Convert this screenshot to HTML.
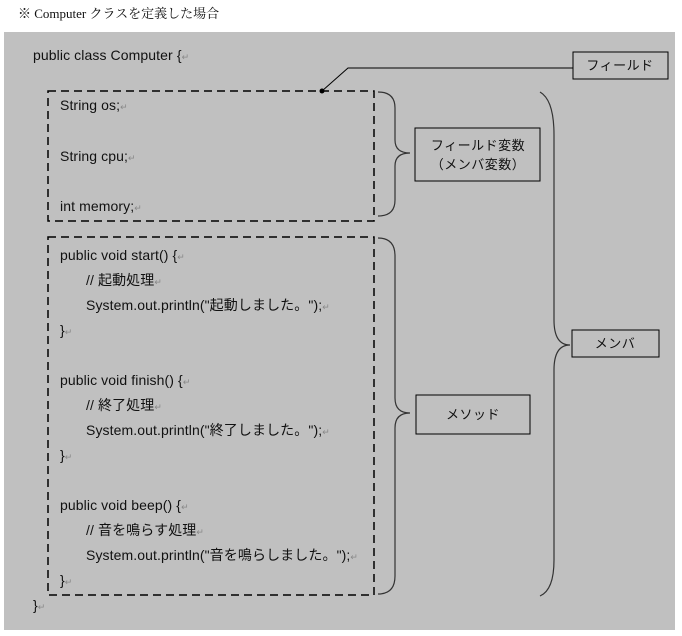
<!DOCTYPE html>
<html><head><meta charset="utf-8"><style>
html,body{margin:0;padding:0;background:#fff;}
svg{display:block;}
text{font-family:"Liberation Sans","Noto Sans CJK JP",sans-serif;font-size:14px;fill:#111;letter-spacing:0.1px;}
.r{fill:#888;font-size:9px;letter-spacing:0;}
.l{font-size:13px;letter-spacing:0.5px;}
</style></head><body>
<svg width="682" height="636" viewBox="0 0 682 636" xmlns="http://www.w3.org/2000/svg">
<text x="18" y="18" style="font-family:'Liberation Serif','Noto Serif CJK SC',serif;font-size:13px;letter-spacing:0">※ Computer クラスを定義した場合</text>
<rect x="4" y="32" width="671" height="598" fill="#c0c0c0"/>
<text x="33" y="60">public class Computer {<tspan class="r">↵</tspan></text>
<rect x="48" y="91" width="326" height="130" fill="none" stroke="#000" stroke-width="1.5" stroke-dasharray="8,5"/>
<rect x="48" y="237" width="326" height="358" fill="none" stroke="#000" stroke-width="1.5" stroke-dasharray="8,5"/>
<circle cx="322" cy="91" r="2.5" fill="#000"/>
<polyline points="322,91 348,68 573,68" fill="none" stroke="#000" stroke-width="1"/>
<rect x="573" y="52" width="95" height="27" fill="none" stroke="#000"/>
<text class="l" x="620" y="70" text-anchor="middle">フィールド</text>
<g fill="none" stroke="#333" stroke-width="1.2">
<path d="M378,92 Q395,92 395,108 L395,140 Q395,153 410,153 Q395,153 395,166 L395,200 Q395,216 378,216"/>
<path d="M378,238 Q395,238 395,256 L395,398 Q395,413 410,413 Q395,413 395,428 L395,576 Q395,594 378,594"/>
<path d="M540,92 Q554,100 554,135 L554,320 Q554,345 570,345 Q554,345 554,370 L554,560 Q554,590 540,596"/>
</g>
<rect x="415" y="128" width="125" height="53" fill="none" stroke="#000"/>
<text class="l" x="478" y="150" text-anchor="middle">フィールド変数</text>
<text class="l" x="478" y="169" text-anchor="middle">（メンバ変数）</text>
<rect x="416" y="395" width="114" height="39" fill="none" stroke="#000"/>
<text class="l" x="473" y="419" text-anchor="middle">メソッド</text>
<rect x="572" y="330" width="87" height="27" fill="none" stroke="#000"/>
<text class="l" x="615" y="348" text-anchor="middle">メンバ</text>
<text x="60" y="110">String os;<tspan class="r">↵</tspan></text>
<text x="60" y="161">String cpu;<tspan class="r">↵</tspan></text>
<text x="60" y="211">int memory;<tspan class="r">↵</tspan></text>
<text x="60" y="260">public void start() {<tspan class="r">↵</tspan></text>
<text x="86" y="285">//  起動処理<tspan class="r">↵</tspan></text>
<text x="86" y="310">System.out.println("起動しました。");<tspan class="r">↵</tspan></text>
<text x="60" y="335">}<tspan class="r">↵</tspan></text>
<text x="60" y="385">public void finish() {<tspan class="r">↵</tspan></text>
<text x="86" y="410">//  終了処理<tspan class="r">↵</tspan></text>
<text x="86" y="435">System.out.println("終了しました。");<tspan class="r">↵</tspan></text>
<text x="60" y="460">}<tspan class="r">↵</tspan></text>
<text x="60" y="510">public void beep() {<tspan class="r">↵</tspan></text>
<text x="86" y="535">//  音を鳴らす処理<tspan class="r">↵</tspan></text>
<text x="86" y="560">System.out.println("音を鳴らしました。");<tspan class="r">↵</tspan></text>
<text x="60" y="585">}<tspan class="r">↵</tspan></text>
<text x="33" y="610">}<tspan class="r">↵</tspan></text>
</svg>
</body></html>
